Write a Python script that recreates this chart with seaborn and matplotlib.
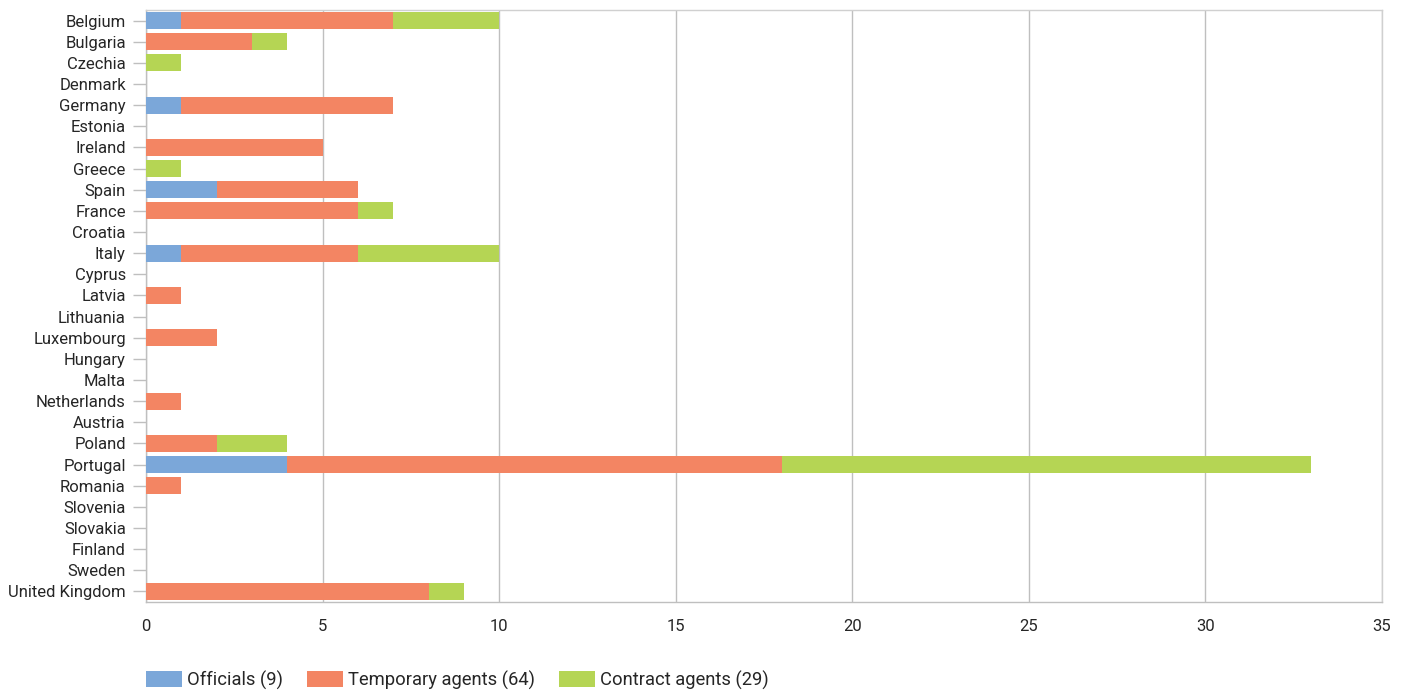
import matplotlib
matplotlib.use("Agg")
import matplotlib.pyplot as plt
import seaborn as sns
import pandas as pd
import numpy as np
from matplotlib.patches import Patch

countries = ["Belgium", "Bulgaria", "Czechia", "Denmark", "Germany", "Estonia", "Ireland",
             "Greece", "Spain", "France", "Croatia", "Italy", "Cyprus", "Latvia", "Lithuania",
             "Luxembourg", "Hungary", "Malta", "Netherlands", "Austria", "Poland", "Portugal",
             "Romania", "Slovenia", "Slovakia", "Finland", "Sweden", "United Kingdom"]
officials = [1, 0, 0, 0, 1, 0, 0, 0, 2, 0, 0, 1, 0, 0, 0, 0, 0, 0, 0, 0, 0, 4, 0, 0, 0, 0, 0, 0]
temporary = [6, 3, 0, 0, 6, 0, 5, 0, 4, 6, 0, 5, 0, 1, 0, 2, 0, 0, 1, 0, 2, 14, 1, 0, 0, 0, 0, 8]
contract = [3, 1, 1, 0, 0, 0, 0, 1, 0, 1, 0, 4, 0, 0, 0, 0, 0, 0, 0, 0, 2, 15, 0, 0, 0, 0, 0, 1]
labels = ["Officials (9)", "Temporary agents (64)", "Contract agents (29)"]
colors = ["#7BA7D9", "#F38563", "#B5D554"]
xticks = [0, 5, 10, 15, 20, 25, 30, 35]

sns.set_theme(style="white")
plt.rcParams["font.family"] = ["Roboto", "DejaVu Sans"]

df = pd.DataFrame({"country": countries, "o": officials, "t": temporary, "c": contract})
df["ot"] = df["o"] + df["t"]
df["all"] = df["ot"] + df["c"]

fig = plt.figure(figsize=(14.1, 6.93), dpi=100)
ax = fig.add_axes([146 / 1410, 1 - 602 / 693, (1382 - 146) / 1410, (602 - 10) / 693])

for col, color in zip(["all", "ot", "o"], colors[::-1]):
    sns.barplot(data=df, x=col, y="country", order=countries, color=color, width=0.8,
                saturation=1, ax=ax, linewidth=0, zorder=3)

ax.set_xlim(0, 35)
ax.set_xticks(xticks)
ax.set_xticklabels([str(v) for v in xticks])
ax.set_xlabel("")
ax.set_ylabel("")
ax.set_ylim(len(countries) - 0.5, -0.5)
ax.grid(axis="x", color="#BFBFBF", linewidth=1, zorder=0)
ax.set_axisbelow(True)
for s in ax.spines.values():
    s.set_color("#D0D0D0")
    s.set_linewidth(1)
ax.spines["left"].set_color("#BFBFBF")
ax.spines["bottom"].set_color("#BFBFBF")
ax.tick_params(axis="y", left=True, length=9.5, width=1, color="#BFBFBF", labelsize=12, pad=5,
               labelcolor="#262626")
ax.tick_params(axis="x", bottom=False, length=0, labelsize=12, pad=12, labelcolor="#262626")

handles = [Patch(facecolor=c, edgecolor="none") for c in colors]
fig.legend(handles, labels, loc="center left", bbox_to_anchor=(146 / 1410, 13 / 693), ncol=3,
           frameon=False, fontsize=13.2, handlelength=1.97, handleheight=0.93,
           handletextpad=0.27, columnspacing=1.31, labelcolor="#262626",
           borderpad=0, borderaxespad=0)

fig.savefig("out.png", dpi=100)
